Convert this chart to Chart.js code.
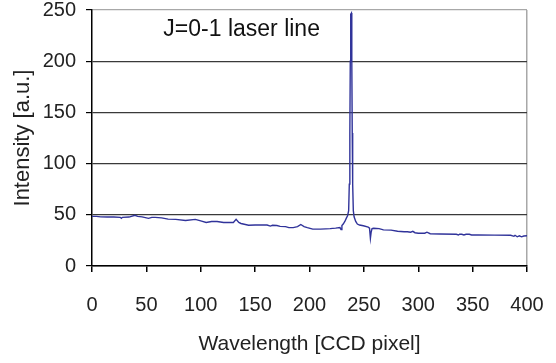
<!DOCTYPE html>
<html>
<head>
<meta charset="utf-8">
<script src="https://cdn.jsdelivr.net/npm/chart.js@4/dist/chart.umd.min.js"></script>
<style>
  html, body { margin: 0; padding: 0; background: #fff; }
  #wrap { width: 556px; height: 363px; }
</style>
</head>
<body>
<div id="wrap"><canvas id="spectrum"></canvas></div>
<script>
// pixel position on the CCD (x) and measured intensity (y)
const pixel = [0, 4, 8, 14, 20, 26, 27, 28, 34, 39.5, 42, 46, 52, 55, 58, 64, 70, 77, 86, 95,
  100, 105, 110, 115, 121, 126, 130, 132.5, 135, 137, 144, 150, 155, 161, 164, 166, 170, 173,
  178, 181, 185, 187, 189, 192, 195, 198, 203, 210, 215, 219, 224, 228, 229, 229.8, 231, 232.5,
  234, 235, 236, 236.6, 237.1, 237.5, 237.9, 238.5, 238.9, 239.3, 239.7, 240.3, 241, 242.5, 244,
  246, 249.5, 254, 255.2, 256, 256.7, 257.5, 259, 264, 268, 275, 281, 287, 290, 293, 295, 297,
  300, 306, 308, 311, 320, 335, 337, 338, 340, 342, 344, 347, 349, 355, 370, 385, 388, 389, 391,
  393, 395, 397, 400];
const intensity = [48.5, 48.5, 48, 47.8, 47.8, 47.5, 46.5, 47.5, 47.8, 49.5, 48.5, 48, 46.5, 47.5,
  47.5, 47, 45.8, 45.5, 44.5, 45.5, 44, 42.5, 43.5, 43.5, 42.5, 42.5, 42.5, 45.5, 42.5, 41.5,
  39.8, 40, 40, 40, 39, 39.8, 39.5, 38.7, 38.5, 37.5, 37.5, 38, 38.5, 40.5, 38.5, 37.5, 36, 36,
  36.3, 36.5, 37, 37.5, 35.5, 39.5, 41, 43.5, 47, 49, 54, 80, 130, 200, 246, 247, 200, 130, 80,
  54, 48, 43.5, 41, 40, 39.3, 38, 37, 27, 33, 36.5, 36.8, 36.5, 35.3, 35, 34, 33.5, 33.5, 33,
  33.8, 32.5, 32, 32, 33, 31.5, 31.2, 31, 30.3, 31, 31, 30.3, 31, 31, 30.3, 30.3, 30.2, 30, 29,
  30, 28.5, 29.5, 28.5, 29.3, 29.5];

const xTicks = [0, 50, 100, 150, 200, 250, 300, 350, 400];
const yTicks = [0, 50, 100, 150, 200, 250];

const label = { text: "J=0-1 laser line", x: 65.6, y: 230.5 };

const points = pixel.map((p, i) => ({ x: p, y: intensity[i] }));
const font = "'Liberation Sans', Arial, sans-serif";

// text label inside the plot
const labelPlugin = {
  id: "laserLabel",
  afterDatasetsDraw(chart) {
    const { ctx, scales } = chart;
    ctx.save();
    ctx.font = "23px " + font;
    ctx.fillStyle = "#111";
    ctx.textBaseline = "middle";
    ctx.textAlign = "left";
    ctx.fillText(label.text, scales.x.getPixelForValue(label.x), scales.y.getPixelForValue(label.y));
    ctx.restore();
  }
};

new Chart(document.getElementById("spectrum"), {
  type: "scatter",
  data: {
    datasets: [{
      data: points,
      showLine: true,
      borderColor: "#30339a",
      borderWidth: 1.4,
      pointRadius: 0,
      tension: 0
    }]
  },
  options: {
    responsive: true,
    maintainAspectRatio: false,
    animation: false,
    layout: { padding: { top: 10, right: 29, left: 0, bottom: 0 } },
    plugins: { legend: { display: false }, tooltip: { enabled: false } },
    scales: {
      x: {
        type: "linear",
        min: 0,
        max: 400,
        afterBuildTicks: s => { s.ticks = xTicks.map(v => ({ value: v })); },
        afterFit: s => { s.height = 97; s.paddingLeft = 0; s.paddingRight = 0; },
        ticks: { color: "#222", font: { family: font, size: 20 }, padding: 21, maxRotation: 0 },
        grid: {
          color: c => (c.tick && c.tick.value === 400 ? "#a8a8a8" : "rgba(0,0,0,0)"),
          tickColor: "#000",
          tickLength: 6,
          lineWidth: 1.5
        },
        border: { color: "#000", width: 1.5 },
        title: {
          display: true,
          text: "Wavelength [CCD pixel]",
          color: "#222",
          font: { family: font, size: 21 },
          padding: { top: 0, bottom: 6 }
        }
      },
      y: {
        min: 0,
        max: 250,
        afterBuildTicks: s => { s.ticks = yTicks.map(v => ({ value: v })); },
        afterFit: s => { s.width = 92; s.paddingTop = 0; s.paddingBottom = 0; },
        ticks: { color: "#222", font: { family: font, size: 20 }, padding: 10 },
        grid: {
          color: c => (c.tick && c.tick.value === 250 ? "#a8a8a8" : "#3a3a3a"),
          tickColor: "#000",
          tickLength: 6,
          lineWidth: 1.2
        },
        border: { color: "#000", width: 1.5 },
        title: {
          display: true,
          text: "Intensity [a.u.]",
          color: "#222",
          font: { family: font, size: 22 },
          padding: { top: 10, bottom: 0 }
        }
      }
    }
  },
  plugins: [labelPlugin]
});
</script>
</body>
</html>
